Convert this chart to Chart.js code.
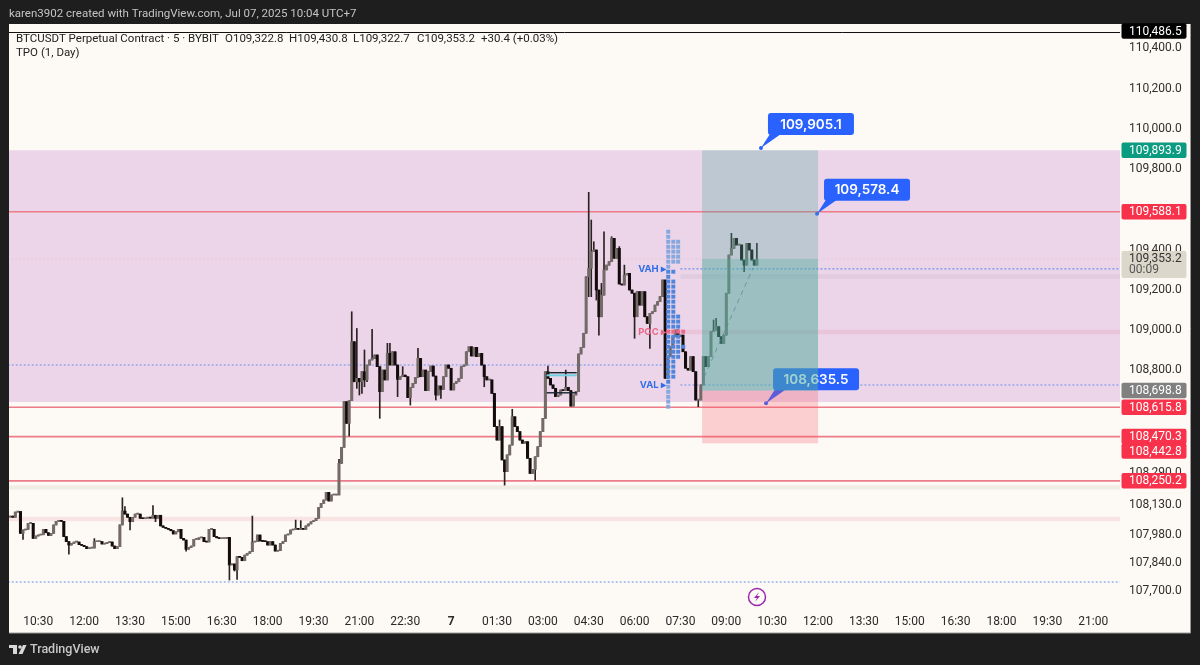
<!DOCTYPE html>
<html><head><meta charset="utf-8">
<style>html,body{margin:0;padding:0;background:#1e1e1e;overflow:hidden}canvas{display:block}</style>
<script src="https://cdn.jsdelivr.net/npm/chart.js@4/dist/chart.umd.min.js"></script>
</head><body><canvas id="c" width="1200" height="665"></canvas>
<script>
const closes=[108075,108069,108095,108098,107989,108006,108009,108039,108039,107964,107976,107981,107982,108009,107992,107979,107989,108031,108049,108050,108049,107973,107948,107931,107939,107946,107946,107933,107929,107923,107913,107916,107916,107948,107948,107948,107936,107939,107944,107946,107926,107913,107923,108031,108100,108085,108069,108047,108069,108085,108085,108064,108062,108065,108069,108065,108079,108064,108079,108026,108019,108014,108009,108002,107986,107997,108009,107964,107956,107910,107919,107926,107959,107959,107967,107969,107948,107946,108009,108009,107973,107967,107963,107964,107964,107969,107832,107837,107807,107873,107870,107853,107881,107890,107898,107946,107948,107981,107951,107949,107948,107931,107948,107931,107901,107903,107939,107948,107981,107986,108006,108009,108014,108009,108014,108009,108026,108036,108047,108052,108064,108118,108138,108155,108193,108150,108180,108180,108180,
108337,108417,108644,108536,108649,108942,108743,108760,108743,108793,108752,108826,108851,108859,108876,108818,108694,108801,108752,108884,108826,108892,108826,108755,108768,108776,108768,108664,108715,108735,108765,108859,108768,108801,108699,108793,108821,108771,108677,108722,108705,108768,108826,108810,108702,108735,108743,108760,108818,108826,108892,108917,108871,108914,108868,108884,108826,108768,108752,108752,108685,108520,108453,108520,108354,108296,108379,108428,108569,108520,108495,108453,108437,108445,108362,108287,108307,108370,108420,108495,108561,108793,108760,108727,108710,108669,108677,108702,108699,108715,108699,108622,108677,108694,108881,108914,108984,
109265,109307,109390,109398,109199,109066,109174,109299,109323,109340,109456,109357,109406,109229,109224,109274,109282,109199,109183,109066,109191,109124,109191,109066,109033,109083,109091,109124,109141,109166,109249,108760,108868,108917,108967,109000,108967,108975,108892,108810,108801,108868,108793,108652,108652,108727,108868,108818,108868,108992,109000,109017,108967,108934,108975,109183,109373,109406,109456,109423,109423,109348,109323,109431,109398,109348,109322.8,109353.2];
const firstOpen=108070;
const wickHighs=[[33,107963],[44,108166],[45,108122],[56,108127],[95,108075],[112,108055],[114,108052],[129,108357],[134,109091],[136,109008],[139,108901],[142,109004],[148,108934],[149,108934],[154,108818],[160,108909],[192,108553],[197,108606],[211,108821],[218,108801],[227,109685],[228,109547],[229,109439],[232,109232],[233,109489],[236,109464],[239,109415],[241,109323],[276,109050],[277,109058],[283,109481],[293,109430.8]];
const wickLows=[[5,107959],[23,107885],[47,108006],[57,108047],[69,107901],[86,107757],[88,107802],[89,107760],[133,108473],[136,108710],[137,108677],[138,108685],[139,108718],[140,108743],[145,108561],[152,108669],[157,108627],[167,108652],[169,108660],[186,108718],[194,108229],[206,108254],[227,109166],[228,109166],[230,109149],[231,108975],[245,108959],[251,108909],[270,108619],[288,109290],[293,109322.7]];
const xTickLabels=["10:30","12:00","13:30","15:00","16:30","18:00","19:30","21:00","22:30","7","01:30","03:00","04:30","06:00","07:30","09:00","10:30","12:00","13:30","15:00","16:30","18:00","19:30","21:00"];
const xTickSlots=[11,29,47,65,83,101,119,137,155,173,191,209,227,245,263,281,299,317,335,353,371,389,407,425];
const yTickValues=[110400,110200,110000,109800,109400,109200,109000,108800,108290,108130,107980,107840,107700];
const redLevels=[109588.1,108615.8,108470.3,108250.2];
const dotted=[[-1,436,107747],[-1,257,108826],[263,436,109304],[263,436,108727]];
const bands=[[263,436,109266,"rgba(120,110,120,.09)"],[257,436,108990,"rgba(225,120,150,.17)"],[-1,436,108217,"rgba(120,110,90,.09)"],[-1,436,108060,"rgba(225,120,130,.16)"]];
const tpoPrices=[109489,109464,109439,109414,109390,109365,109340,109315,109290,109265,109241,109216,109191,109166,109141,109116,109091,109067,109042,109017,108992,108967,108942,108917,108892,108867,108843,108818,108793,108768,108743,108718,108693,108668,108644,108619];
const tpoCounts=[1,1,3,3,3,3,3,1,2,1,2,2,2,2,2,2,2,3,3,3,4,3,3,4,3,3,2,2,2,2,1,1,1,1,1,1];
const tpoColumnSlots=[258.2,260.2,262.1,264.1];
const vaHigh=109310, vaLow=108730, pocPrice=108992;
const pinkZone=[109893.9,108642];
const position={left:271.5,right:317,top:109893.9,current:109353.2,entry:108698.8,stop:108437};
const boxTool={left:210.5,right:222.3,top:108788,bottom:108688,cyanTop:108780,cyanBottom:108770};
const projection=[[272.3,108766],[291.5,109309]];
const callouts=[["109,905.1",294.6,109905,1],["109,578.4",316.6,109578.4,1],["108,635.5",296.6,108635.5,1]];
const priceTags=[["110,486.5",110486.5,"#000","#fff"],["109,893.9",109893.9,"#0b9b80","#fff"],["109,588.1",109588.1,"#f7324a","#fff"],["108,698.8",108698.8,"#808080","#fff"],["108,615.8",108615.8,"#f7324a","#fff"],["108,470.3",108470.3,"#f7324a","#fff"],["108,442.8",108398,"#f7324a","#fff"],["108,250.2",108250.2,"#f7324a","#fff"]];
const totalSlots=436;

const UI='Inter, "Noto Sans", sans-serif';
const RB='Roboto, "Noto Sans", sans-serif';
const opens=closes.map((c,i)=>i?closes[i-1]:firstOpen);
const hiMap=new Map(wickHighs),loMap=new Map(wickLows);
const bodyData=closes.map((c,i)=>({x:i,y:[Math.min(opens[i],c),Math.max(opens[i],c)]}));
const wickData=closes.map((c,i)=>({x:i,y:[Math.min(opens[i],c,loMap.get(i)??Infinity),Math.max(opens[i],c,hiMap.get(i)??-Infinity)]}));
const bodyColors=closes.map((c,i)=>c>=opens[i]?"#746a67":"#140c0c");
const lineDs=(a,b,color,width,dash,order)=>({type:"line",data:[{x:a[0],y:a[1]},{x:b[0],y:b[1]}],borderColor:color,borderWidth:width,borderDash:dash||[],pointRadius:0,order:order,fill:false,tension:0});
const datasets=[];
datasets.push({type:"bar",data:wickData,backgroundColor:"#2b2222",barThickness:1,grouped:false,order:3});
datasets.push({type:"bar",data:bodyData,backgroundColor:bodyColors,barThickness:2.4,grouped:false,minBarLength:1,order:2});
redLevels.forEach(v=>datasets.push(lineDs([-1,v],[436,v],"#ee7b89",1.6,null,6)));
dotted.forEach(d=>datasets.push(lineDs([d[0],d[2]],[d[1],d[2]],"#6a90f2",1.1,[2,2],5)));
datasets.push(lineDs([-1,109353.2],[436,109353.2],"rgba(205,170,140,.45)",1,[1,3],7));
bands.forEach(b=>datasets.push(lineDs([b[0],b[2]],[b[1],b[2]],b[3],4.5,null,8)));
datasets.push(lineDs(projection[0],projection[1],"rgba(95,110,110,.75)",1,[5,4],1));
datasets.push(lineDs([boxTool.left,boxTool.top],[boxTool.right,boxTool.top],"#1a2230",1.4,null,1));
datasets.push(lineDs([boxTool.left,boxTool.bottom],[boxTool.right,boxTool.bottom],"#1a2230",1.4,null,1));
const tpoPts=[];const tpoCols=[];
tpoPrices.forEach((p,r)=>{for(let k=0;k<tpoCounts[r];k++){tpoPts.push({x:tpoColumnSlots[k],y:p});
  tpoCols.push(p===pocPrice?"#e8698a":(p<=vaHigh&&p>=vaLow?"#4f86dc":"#86a8de"));}});
datasets.push({type:"scatter",data:tpoPts,pointStyle:"rect",pointRadius:2.8,pointHoverRadius:2.8,borderWidth:0,backgroundColor:tpoCols,order:0});

const rr=(c,x,y,w,h,r)=>{c.beginPath();c.roundRect(x,y,w,h,r);};
const art={id:"art",
 beforeDraw(ch){const c=ch.ctx;c.save();c.fillStyle="#1e1e1e";c.fillRect(0,0,1200,665);
  c.fillStyle="#fdfaf5";c.fillRect(9,24,1182,609);
  c.strokeStyle="#9a9a98";c.lineWidth=1;c.beginPath();c.moveTo(1190.5,24);c.lineTo(1190.5,633);c.lineTo(9,633);c.stroke();
  c.fillStyle="#c4c4c4";c.font="11.5px "+RB;c.textBaseline="middle";c.textAlign="left";
  c.fillText("karen3902 created with TradingView.com, Jul 07, 2025 10:04 UTC+7",9,14);
  c.fillStyle="#c8c8c8";c.font="500 12.5px "+RB;c.fillText("TradingView",30,650);
  c.fillStyle="#d8d8d8";c.fillRect(9,645,8,3);c.fillRect(13,645,4,9);
  c.beginPath();c.arc(20,647,1.8,0,7);c.fill();
  c.beginPath();c.moveTo(23,645);c.lineTo(26.5,645);c.lineTo(22.5,654);c.lineTo(18.5,654);c.closePath();c.fill();
  c.restore();},
 beforeDatasetsDraw(ch){const c=ch.ctx,y=ch.scales.y,a=ch.chartArea;c.save();
  c.fillStyle="#ecd5e9";const t=y.getPixelForValue(pinkZone[0]),b=y.getPixelForValue(pinkZone[1]);
  c.fillRect(a.left,t,a.right-a.left,b-t);c.restore();},
 afterDatasetsDraw(ch){const c=ch.ctx,X=ch.scales.x,Y=ch.scales.y,a=ch.chartArea;c.save();
  c.fillStyle="#74cfe2";c.fillRect(X.getPixelForValue(boxTool.left),Y.getPixelForValue(boxTool.cyanTop),X.getPixelForValue(boxTool.right)-X.getPixelForValue(boxTool.left),Y.getPixelForValue(boxTool.cyanBottom)-Y.getPixelForValue(boxTool.cyanTop));
  c.font="bold 9.5px "+UI;c.textBaseline="middle";c.textAlign="right";
  [["VAH ▸",109304,"#2f6ee8"],["POC ▸",108990,"#e8698a"],["VAL ▸",108727,"#2f6ee8"]].forEach(l=>{c.fillStyle=l[2];c.fillText(l[0],X.getPixelForValue(257.3),Y.getPixelForValue(l[1]));});
  callouts.forEach(k=>{const px=X.getPixelForValue(k[1]),py=Y.getPixelForValue(k[2]);
   const bx=px+7,by=py-35,bw=86,bh=22;
   c.fillStyle="#2962ff";c.beginPath();c.moveTo(bx+2,by+bh-1);c.lineTo(px,py);c.lineTo(bx+13,by+bh-1);c.closePath();c.fill();
   rr(c,bx,by,bw,bh,3);c.fill();
   c.beginPath();c.arc(px,py,2,0,7);c.fill();
   c.fillStyle="#fff";c.font="600 13.5px "+UI;c.textAlign="center";c.fillText(k[0],bx+bw/2,by+bh/2+.5);});
  const L=X.getPixelForValue(position.left),R=X.getPixelForValue(position.right),W=R-L;
  const pT=Y.getPixelForValue(position.top),pC=Y.getPixelForValue(position.current),pE=Y.getPixelForValue(position.entry),pS=Y.getPixelForValue(position.stop);
  c.fillStyle="rgba(78,172,158,.3)";c.fillRect(L,pT,W,pE-pT);c.fillRect(L,pC,W,pE-pC);
  c.fillStyle="rgba(248,78,96,.25)";c.fillRect(L,pE,W,pS-pE);
  const ex=757,ey=597;c.strokeStyle="#9c27b0";c.lineWidth=1.5;c.beginPath();c.arc(ex,ey,8.5,0,7);c.stroke();
  c.fillStyle="#9c27b0";c.beginPath();c.moveTo(ex+2,ey-5);c.lineTo(ex-3,ey+1);c.lineTo(ex,ey+1);c.lineTo(ex-2,ey+5);c.lineTo(ex+3,ey-1);c.lineTo(ex,ey-1);c.closePath();c.fill();
  c.restore();},
 afterDraw(ch){const c=ch.ctx,Y=ch.scales.y;c.save();
  c.textBaseline="middle";c.textAlign="left";
  c.strokeStyle="#111";c.lineWidth=1;c.beginPath();c.moveTo(9,32.5);c.lineTo(1120,32.5);c.stroke();
  c.fillStyle="#222";c.font="11.5px "+RB;
  c.fillText("BTCUSDT Perpetual Contract · 5 · BYBIT",16,39);
  c.fillText("O109,322.8",225,39);c.fillText("H109,430.8",289,39);c.fillText("L109,322.7",353,39);c.fillText("C109,353.2",417,39);c.fillText("+30.4 (+0.03%)",481,39);
  c.fillText("TPO (1, Day)",16,53);
  c.fillStyle="#dcd7cb";rr(c,1121.5,251,65,27,2);c.fill();
  c.fillStyle="#333";c.font="12px "+RB;c.fillText("109,353.2",1129,258.5);c.fillStyle="#555";c.fillText("00:09",1129,270);
  priceTags.forEach(t=>{const py=Y.getPixelForValue(t[1]);c.fillStyle=t[2];rr(c,1121.5,py-7.75,65,15.5,2);c.fill();
   c.fillStyle=t[3];c.font="12px "+RB;c.fillText(t[0],1129,py+.5);});
  c.restore();}
};
new Chart(document.getElementById("c"),{type:"bar",data:{datasets},plugins:[art],
 options:{responsive:false,animation:false,events:[],devicePixelRatio:1,
  layout:{padding:{left:9,top:24,right:0,bottom:0}},
  plugins:{legend:{display:false},tooltip:{enabled:false}},
  scales:{
   x:{type:"linear",min:-0.5,max:totalSlots-0.5,offset:false,grid:{display:false,drawTicks:false},border:{display:false},
    afterBuildTicks(s){s.ticks=xTickSlots.map(v=>({value:v}));},
    afterFit(s){s.height=58;},
    ticks:{autoSkip:false,maxRotation:0,padding:8,color:"#2a2a2a",
     font:ctx=>({family:RB,size:12,weight:ctx.tick&&xTickLabels[xTickSlots.indexOf(ctx.tick.value)]==="7"?"700":"400"}),
     callback:v=>xTickLabels[xTickSlots.indexOf(v)]}},
   y:{type:"linear",position:"right",min:107622.9,max:110521.8,grid:{display:false,drawTicks:false},border:{display:false},
    afterBuildTicks(s){s.ticks=yTickValues.map(v=>({value:v}));},
    afterFit(s){s.width=80;},
    ticks:{autoSkip:false,padding:9,color:"#332e2e",font:{family:RB,size:12},
     callback:v=>v.toLocaleString("en-US",{minimumFractionDigits:1,maximumFractionDigits:1})}}
  }}});
</script></body></html>
